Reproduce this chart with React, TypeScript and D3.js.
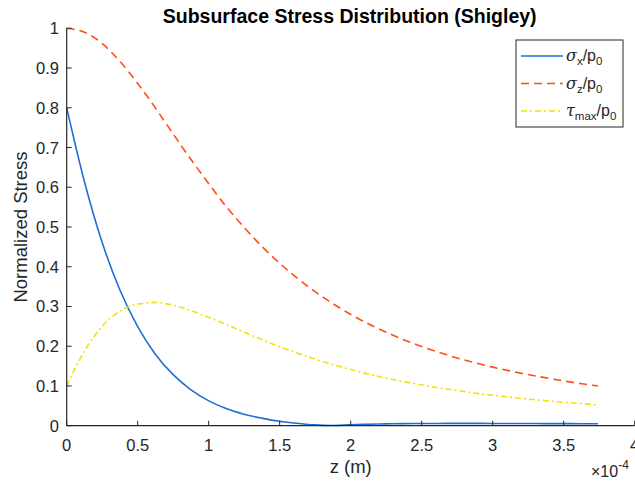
import React from "react";
import * as d3 from "d3";

// z in units of 1e-4 m
const zVals = [0, 0.125, 0.249, 0.374, 0.499, 0.624, 0.748, 0.873, 0.998, 1.122, 1.247, 1.372, 1.496, 1.621, 1.746, 1.871, 1.995, 2.12, 2.245, 2.369, 2.494, 2.619, 2.743, 2.868, 2.993, 3.118, 3.242, 3.367, 3.492, 3.616, 3.741];
const sigmaX = [0.8, 0.614, 0.462, 0.342, 0.25, 0.18, 0.129, 0.091, 0.063, 0.043, 0.029, 0.019, 0.011, 0.006, 0.002, 0.0005, 0.0023, 0.0036, 0.0045, 0.0051, 0.0055, 0.0057, 0.0058, 0.0058, 0.0057, 0.0056, 0.0055, 0.0053, 0.0052, 0.005, 0.0048];
const sigmaZ = [1.0, 0.99, 0.962, 0.917, 0.862, 0.8, 0.735, 0.671, 0.61, 0.552, 0.5, 0.452, 0.41, 0.372, 0.338, 0.308, 0.281, 0.257, 0.236, 0.217, 0.2, 0.185, 0.171, 0.159, 0.148, 0.138, 0.129, 0.121, 0.113, 0.106, 0.1];
const tauMax = [0.1, 0.188, 0.25, 0.288, 0.306, 0.31, 0.303, 0.29, 0.273, 0.255, 0.236, 0.217, 0.199, 0.183, 0.168, 0.154, 0.142, 0.13, 0.12, 0.111, 0.103, 0.095, 0.089, 0.082, 0.077, 0.072, 0.067, 0.063, 0.059, 0.056, 0.052];
const xTicks = [0, 0.5, 1, 1.5, 2, 2.5, 3, 3.5, 4];
const yTicks = [0, 0.1, 0.2, 0.3, 0.4, 0.5, 0.6, 0.7, 0.8, 0.9, 1];

const W = 635, H = 482;
const L = 66.7, R = 634.7, T = 28.3, B = 425.7;
const font = "'Liberation Sans', Arial, Helvetica, sans-serif";

export default function App() {
  const x = d3.scaleLinear().domain([0, 4]).range([L, R]);
  const y = d3.scaleLinear().domain([0, 1]).range([B, T]);
  const mk = (vals: number[]) =>
    d3.line<number>().x((_, i) => x(zVals[i])).y((v) => y(v)).curve(d3.curveMonotoneX)(vals) || "";

  const series = [
    { vals: sigmaX, color: "#1a70d8", dash: "", sub: "x", main: "σ" },
    { vals: sigmaZ, color: "#ff4f14", dash: "8,5", sub: "z", main: "σ" },
    { vals: tauMax, color: "#f2e20a", dash: "6,3,2,3", sub: "max", main: "τ" },
  ];

  return (
    <svg width={W} height={H} style={{ position: "absolute", left: 0, top: 0, background: "#fff" }} fontFamily={font}>
      <rect width={W} height={H} fill="#fff" />
      {series.map((s, i) => (
        <path key={i} d={mk(s.vals)} fill="none" stroke={s.color} strokeWidth={1.6} strokeDasharray={s.dash || undefined} />
      ))}
      {/* axes */}
      <line x1={L} y1={B} x2={R} y2={B} stroke="#262626" strokeWidth={1.2} />
      <line x1={L} y1={B} x2={L} y2={T} stroke="#262626" strokeWidth={1.2} />
      {xTicks.map((t) => (
        <g key={"x" + t}>
          <line x1={x(t)} x2={x(t)} y1={B} y2={B - 5} stroke="#262626" strokeWidth={1} />
          <text x={x(t)} y={451} fontSize={16.5} textAnchor="middle" fill="#262626">{t}</text>
        </g>
      ))}
      {yTicks.map((t) => (
        <g key={"y" + t}>
          <line x1={L} x2={L + 5} y1={y(t)} y2={y(t)} stroke="#262626" strokeWidth={1} />
          <text x={59} y={y(t) + 6} fontSize={16.5} textAnchor="end" fill="#262626">{t}</text>
        </g>
      ))}
      {/* exponent */}
      <text x={591} y={477} fontSize={16} fill="#262626">×10<tspan dy={-8} fontSize={12}>-4</tspan></text>
      <text x={(L + R) / 2} y={473} fontSize={18.5} textAnchor="middle" fill="#262626">z (m)</text>
      <text transform={`translate(27,${(T + B) / 2}) rotate(-90)`} fontSize={18.5} textAnchor="middle" fill="#262626">Normalized Stress</text>
      <text x={(L + R) / 2 - 1} y={23} fontSize={19.5} fontWeight="bold" textAnchor="middle" fill="#000">Subsurface Stress Distribution (Shigley)</text>
      {/* legend */}
      <rect x={516} y={40} width={107} height={87} fill="#fff" stroke="#262626" strokeWidth={1} />
      {series.map((s, i) => {
        const ly = 56 + i * 27.5;
        return (
          <g key={"lg" + i}>
            <line x1={521} x2={563} y1={ly} y2={ly} stroke={s.color} strokeWidth={1.6} strokeDasharray={s.dash || undefined} />
            <text x={566} y={ly + 5} fontSize={16} fill="#262626">
              <tspan fontFamily="'DejaVu Serif', serif" fontStyle="italic">{s.main}</tspan>
              <tspan dy={4} fontSize={11.5}>{s.sub}</tspan>
              <tspan dy={-4}>/p</tspan>
              <tspan dy={4} fontSize={11.5}>0</tspan>
            </text>
          </g>
        );
      })}
    </svg>
  );
}
